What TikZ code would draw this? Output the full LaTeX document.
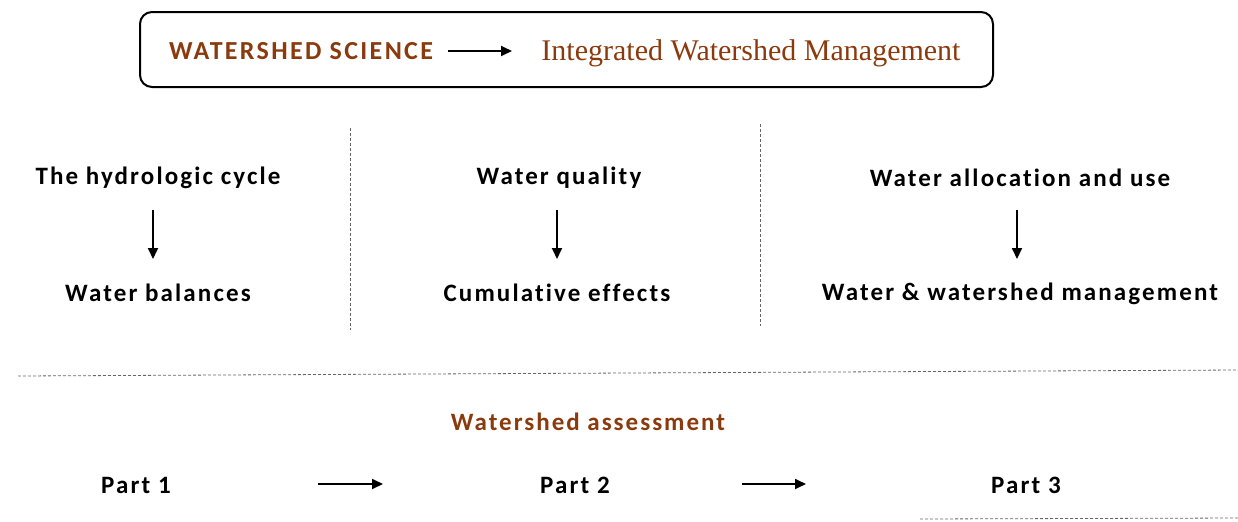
\documentclass[tikz,border=0pt]{standalone}
\usepackage{fontspec}
\setmainfont{Carlito}[Ligatures=NoCommon]
\newfontfamily\serifbrown{Liberation Serif}
\usetikzlibrary{arrows.meta}
\definecolor{brownc}{HTML}{8B3A0E}
\begin{document}
\begin{tikzpicture}[x=0.5pt,y=-0.5pt,
  lbl/.style={font=\fontsize{12.5}{14}\selectfont\bfseries\addfontfeatures{LetterSpace=8.5}, inner sep=0pt},
  ttl/.style={font=\fontsize{12.5}{14}\selectfont\bfseries\addfontfeatures{LetterSpace=8}, text=brownc, inner sep=0pt},
  arr/.style={-{Triangle[length=5.5pt,width=5pt]}, line width=0.9pt},
  sep/.style={line width=0.4pt, draw=black!60, dash pattern=on 1.5pt off 1pt}]
\useasboundingbox (0,0) rectangle (1238,521);
% top box
\node[draw, line width=1pt, rounded corners=6pt, minimum width=426.5pt, minimum height=37.5pt] (box) at (566.5,49.5) {};
\node[ttl, font=\fontsize{13}{15}\selectfont\bfseries\addfontfeatures{LetterSpace=9}] (ws) at (301,51) {WATERSHED SCIENCE};
\node[inner sep=0pt, text=brownc, font=\serifbrown\fontsize{15}{17}\selectfont] (iwm) at (751,53) {Integrated Watershed Management};
\coordinate (a0s) at (448,51);
\coordinate (a0e) at (512,51);
\draw[arr] (a0s) -- (a0e);
% separators
\coordinate (v1t) at (350,128); \coordinate (v1b) at (350,330);
\coordinate (v2t) at (760,124); \coordinate (v2b) at (760,326);
\draw[sep] (v1t) -- (v1b);
\draw[sep] (v2t) -- (v2b);
% columns
\node[lbl] (c1t) at (158,178) {The hydrologic cycle};
\node[lbl] (c1b) at (158,293) {Water balances};
\node[lbl] (c2t) at (559,178) {Water quality};
\node[lbl] (c2b) at (557,293) {Cumulative effects};
\node[lbl] (c3t) at (1020,178) {Water allocation and use};
\node[lbl] (c3b) at (1020,294) {Water \& watershed management};
\coordinate (d1s) at (153,210); \coordinate (d1e) at (153,259);
\coordinate (d2s) at (557,210); \coordinate (d2e) at (557,259);
\coordinate (d3s) at (1017,210); \coordinate (d3e) at (1017,259);
\draw[arr] (d1s) -- (d1e);
\draw[arr] (d2s) -- (d2e);
\draw[arr] (d3s) -- (d3e);
% horizontal separator
\coordinate (h1l) at (18,376); \coordinate (h1r) at (1238,370);
\draw[sep] (h1l) -- (h1r);
\coordinate (h2l) at (920,519); \coordinate (h2r) at (1238,518);
\draw[sep] (h2l) -- (h2r);
% assessment
\node[ttl] (wa) at (588,422) {Watershed assessment};
\node[lbl] (p1) at (136,485) {Part 1};
\node[lbl] (p2) at (575,485) {Part 2};
\node[lbl] (p3) at (1026,485) {Part 3};
\coordinate (e1s) at (318,484); \coordinate (e1e) at (383,484);
\coordinate (e2s) at (742,484); \coordinate (e2e) at (806,484);
\draw[arr] (e1s) -- (e1e);
\draw[arr] (e2s) -- (e2e);
\end{tikzpicture}
\end{document}
